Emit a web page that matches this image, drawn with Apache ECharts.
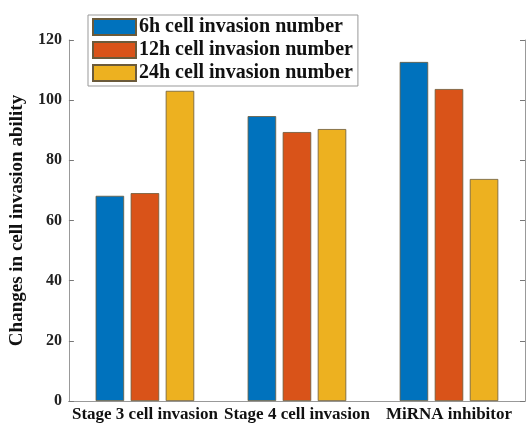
<!DOCTYPE html>
<html>
<head>
<meta charset="utf-8">
<script src="https://cdn.jsdelivr.net/npm/echarts@6/dist/echarts.min.js"></script>
<style>
  html, body { margin: 0; padding: 0; background: #fff; }
  #chart { width: 529px; height: 425px; }
</style>
</head>
<body>
<div id="chart"></div>
<script>
const categories = ['Stage 3 cell invasion', 'Stage 4 cell invasion', 'MiRNA inhibitor'];
const seriesNames = ['6h cell invasion number', '12h cell invasion number', '24h cell invasion number'];
const values6h = [68.2, 94.7, 112.7];
const values12h = [69.1, 89.4, 103.7];
const values24h = [103.1, 90.4, 73.8];
const yTicks = [0, 20, 40, 60, 80, 100, 120];

const colors = ['#0072BD', '#D95319', '#EDB120'];
const font = '"Liberation Serif", "Times New Roman", serif';

const chart = echarts.init(document.getElementById('chart'));

const makeBar = (name, data, i) => ({
  name: name,
  type: 'bar',
  data: data,
  barWidth: 28.5,
  barGap: '23%',
  itemStyle: { color: colors[i], borderColor: '#6b5a3a', borderWidth: 0.8 }
});

chart.setOption({
  animation: false,
  textStyle: { fontFamily: font },
  grid: { left: 64, right: 4, top: 40, bottom: 24 },
  legend: {
    orient: 'vertical',
    left: 88,
    top: 15,
    itemWidth: 43,
    itemHeight: 16,
    itemGap: 3,
    padding: [2, 5, 3, 4],
    backgroundColor: '#fff',
    borderColor: '#999',
    borderWidth: 1,
    icon: 'rect',
    textStyle: { fontFamily: font, fontWeight: 'bold', fontSize: 20, color: '#111', padding: [0, 0, 0, -2] },
    data: seriesNames
  },
  xAxis: [
    {
      type: 'category',
      data: categories,
      axisLine: { lineStyle: { color: '#999' } },
      axisTick: { inside: true, alignWithLabel: true, length: 5, lineStyle: { color: '#777' } },
      axisLabel: { fontFamily: font, fontWeight: 'bold', fontSize: 17, color: '#111', margin: 5, interval: 0 }
    },
    {
      type: 'category',
      position: 'top',
      data: categories,
      axisLine: { show: true, lineStyle: { color: '#999' } },
      axisTick: { inside: true, alignWithLabel: true, length: 5, lineStyle: { color: '#777' } },
      axisLabel: { show: false }
    }
  ],
  yAxis: [
    {
      type: 'value',
      min: 0,
      max: 120,
      interval: 20,
      name: 'Changes in cell invasion ability',
      nameLocation: 'middle',
      nameGap: 35,
      nameTextStyle: { fontFamily: font, fontWeight: 'bold', fontSize: 19, color: '#111' },
      axisLine: { show: true, lineStyle: { color: '#999' } },
      axisTick: { show: true, inside: true, length: 5, lineStyle: { color: '#777' } },
      splitLine: { show: false },
      axisLabel: {
        fontFamily: font, fontWeight: 'bold', fontSize: 16, color: '#222', margin: 7,
        formatter: v => (yTicks.includes(v) ? String(v) : '')
      }
    },
    {
      type: 'value',
      position: 'right',
      min: 0,
      max: 120,
      interval: 20,
      axisLine: { show: true, lineStyle: { color: '#999' } },
      axisTick: { show: true, inside: true, length: 5, lineStyle: { color: '#777' } },
      splitLine: { show: false },
      axisLabel: { show: false }
    }
  ],
  series: [
    makeBar(seriesNames[0], values6h, 0),
    makeBar(seriesNames[1], values12h, 1),
    makeBar(seriesNames[2], values24h, 2)
  ]
});
</script>
</body>
</html>
